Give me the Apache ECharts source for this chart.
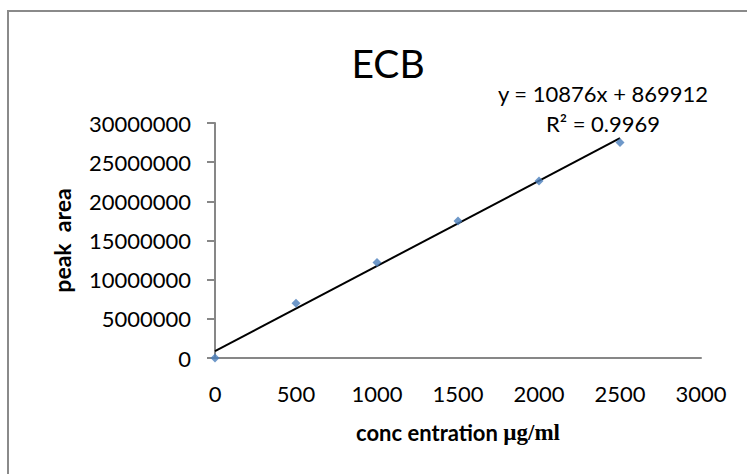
<!DOCTYPE html>
<html>
<head>
<meta charset="utf-8">
<script src="https://cdn.jsdelivr.net/npm/echarts@6/dist/echarts.min.js"></script>
<style>
  html, body { margin: 0; padding: 0; background: #fff; }
  #ecb_chart { width: 747px; height: 474px; }
</style>
</head>
<body>
<div id="ecb_chart"></div>
<script>
// ECB 검량선 데이터
var concX = [0, 500, 1000, 1500, 2000, 2500];
var peakArea = [0, 7000000, 12200000, 17500000, 22600000, 27500000];
// 추세선 (y = 10876x + 869912) 양 끝점
var trendX = [0, 2500];
var trendY = [869912, 28059912];
var eqText = 'y = 10876x + 869912';
var r2Text = 'R² = 0.9969';

var axisColor = '#878787';
var txtFont = 'Lato';

var domEcb = document.getElementById('ecb_chart');
var myChartEcb = echarts.init(domEcb, null, {
  renderer: 'svg',
  useDirtyRect: false
});

var optionEcb;
optionEcb = {
  animation: false,
  title: [
    {
      text: 'ECB',
      left: 383,
      top: 38,
      textAlign: 'center',
      textStyle: { fontFamily: txtFont, fontSize: 39, fontWeight: 'normal', color: '#000' }
    },
    {
      text: eqText + '\n' + r2Text,
      left: 598,
      top: 73,
      textAlign: 'center',
      textStyle: { fontFamily: txtFont, fontSize: 22, fontWeight: 'normal', color: '#000', lineHeight: 30, align: 'center' }
    }
  ],
  graphic: [
    {
      type: 'rect',
      shape: { x: 8, y: 11, width: 800, height: 520 },
      style: { fill: 'none', stroke: '#8a8a8a', lineWidth: 2 },
      silent: true
    }
  ],
  grid: {
    left: 215,
    right: 46,
    top: 123,
    bottom: 116
  },
  xAxis: {
    type: 'value',
    min: 0,
    max: 3000,
    interval: 500,
    name: 'conc entration {u|µg/ml}',
    nameLocation: 'middle',
    nameGap: 63,
    nameTextStyle: {
      fontFamily: txtFont,
      fontSize: 22,
      fontWeight: 'bold',
      color: '#000',
      rich: {
        u: { fontFamily: 'Liberation Serif', fontSize: 23, fontWeight: 'bold', color: '#000' }
      }
    },
    axisLine: { show: true, onZero: false, lineStyle: { color: axisColor, width: 2 } },
    axisTick: { show: false },
    splitLine: { show: false },
    axisLabel: {
      fontFamily: txtFont, fontSize: 22, color: '#000', margin: 24,
      formatter: function (value) { return String(value); }
    }
  },
  yAxis: {
    type: 'value',
    min: 0,
    max: 30000000,
    interval: 5000000,
    name: 'peak  area',
    nameLocation: 'middle',
    nameGap: 142,
    nameTextStyle: { fontFamily: txtFont, fontSize: 23, fontWeight: 'bold', color: '#000' },
    axisLine: { show: true, lineStyle: { color: axisColor, width: 2 } },
    axisTick: { show: true, length: 8, lineStyle: { color: axisColor, width: 2 } },
    splitLine: { show: false },
    axisLabel: {
      fontFamily: txtFont, fontSize: 22, color: '#000', margin: 24,
      formatter: function (value) { return String(value); }
    }
  },
  series: [
    {
      name: 'trend',
      type: 'line',
      data: trendX.map(function (x, i) { return [x, trendY[i]]; }),
      symbol: 'none',
      lineStyle: { color: '#000', width: 2 },
      z: 2
    },
    {
      name: 'ECB',
      type: 'scatter',
      data: concX.map(function (x, i) { return [x, peakArea[i]]; }),
      symbol: 'diamond',
      symbolSize: 9,
      itemStyle: { color: '#4a7ebb' },
      z: 3
    }
  ]
};

if (optionEcb && typeof optionEcb === 'object') {
  myChartEcb.setOption(optionEcb);
}

window.addEventListener('resize', myChartEcb.resize);
</script>
</body>
</html>
